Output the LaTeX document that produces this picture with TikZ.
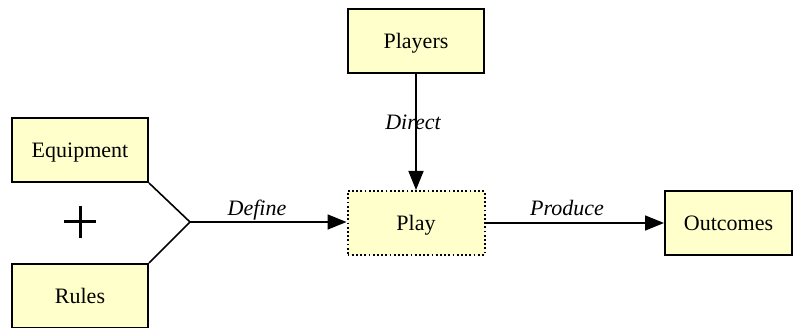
\documentclass[tikz,border=0pt]{standalone}
\usepackage{fontspec}
\setmainfont{Liberation Serif}
\usetikzlibrary{arrows.meta}
\definecolor{boxfill}{RGB}{255,255,204}
\begin{document}
\begin{tikzpicture}[x=1pt,y=-1pt,
  boxtext/.style={font=\fontsize{22}{24}\selectfont,text height=16pt,text depth=1pt,inner sep=0pt,minimum height=64pt},
  box/.style={boxtext,draw=black,line width=2pt,fill=boxfill,minimum width=136pt},
  dotbox/.style={boxtext,draw=black,line width=2pt,dash pattern=on 1.8pt off 2.4pt,fill=boxfill,minimum width=137pt},
  conn/.style={line width=1.6pt,-{Triangle[length=19pt,width=15pt]}},
  lbl/.style={font=\fontsize{22}{24}\selectfont\itshape,inner sep=0pt,anchor=base}]
\useasboundingbox (0,0) rectangle (793,328);
\node[box] (players) at (416,41) {Players};
\node[dotbox] (play) at (416,223) {Play};
\node[box,minimum width=127pt] (outcomes) at (728.5,223) {Outcomes};
\node[box] (equip) at (80,150) {Equipment};
\node[box] (rules) at (80,296) {Rules};
\coordinate (fork) at (190,222);
\draw[line width=1.6pt] (equip.south east) -- (fork) -- (rules.north east);
\draw[conn] (fork) -- (play.west |- fork);
\draw[conn] (players) -- (play);
\draw[conn] (play) -- (outcomes);
\node[lbl] (define) at (257,216) {Define};
\node[lbl] (produce) at (567,216) {Produce};
\node[lbl] (direct) at (413,130) {Direct};
\draw[line width=3pt] (64,222) -- (96,222) (80,206) -- (80,238);
\end{tikzpicture}
\end{document}
